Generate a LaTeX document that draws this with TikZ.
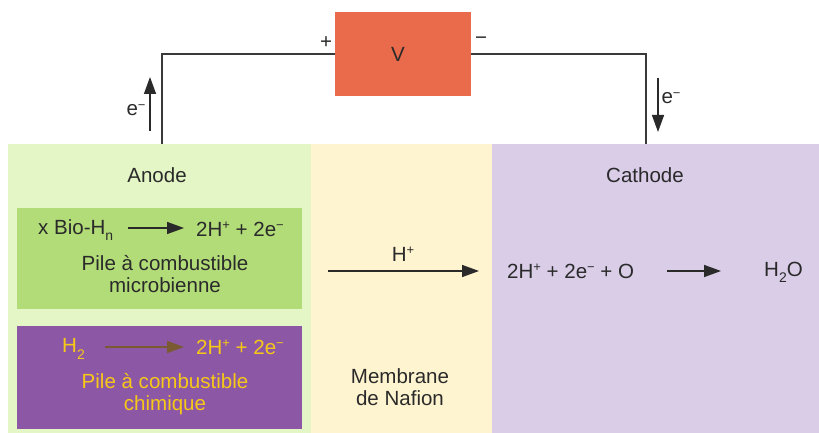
\documentclass[tikz,border=0pt]{standalone}
\usepackage{fontspec}
\setmainfont{Liberation Sans}
\usetikzlibrary{arrows.meta}
\definecolor{anodebg}{HTML}{E4F6C6}
\definecolor{membbg}{HTML}{FFF4D0}
\definecolor{cathbg}{HTML}{D9CDE8}
\definecolor{biogreen}{HTML}{B2DC78}
\definecolor{chemviolet}{HTML}{8C58A6}
\definecolor{chemtext}{HTML}{F7C816}
\definecolor{chemarrow}{HTML}{7A5A32}
\definecolor{voltred}{HTML}{EA6A4C}
\definecolor{wiregray}{HTML}{3A3A3A}
\definecolor{ink}{HTML}{2A2A2A}
\newcommand{\supsm}[1]{\raisebox{0.3em}{\fontsize{13}{13}\selectfont #1}}
\newcommand{\subsm}[1]{\raisebox{-0.3em}{\fontsize{14}{14}\selectfont #1}}
\newcommand{\eminus}{e\supsm{−}}
\newcommand{\hplus}{H\supsm{+}}
\tikzset{
  lbl/.style={font=\fontsize{20.6}{23.5}\selectfont, text=ink, inner sep=0pt, align=center},
  wire/.style={draw=wiregray, line width=1.6bp},
  flow/.style={draw=ink, line width=1.5bp, -{Triangle[length=17bp,width=12bp]}},
}
\begin{document}
\begin{tikzpicture}[x=1bp,y=-1bp]
\useasboundingbox (0,0) rectangle (819,433);
% cell compartments
\fill[anodebg] (8,144) rectangle (311,433);
\fill[membbg] (311,144) rectangle (492,433);
\fill[cathbg] (492,144) rectangle (819,433);
\fill[biogreen] (17,208) rectangle (302,309);
\fill[chemviolet] (17,326) rectangle (302,429);

% voltmeter and external circuit
\node[fill=voltred, minimum width=136bp, minimum height=84bp, inner sep=0pt] (volt) at (403,54) {};
\node[lbl] (vlab) at (398,54) {V};
\node[lbl] (plus) at (326,43) {+};
\node[lbl] (minus) at (481,41) {−};
\coordinate (anodetop) at (162,144);
\coordinate (cathtop) at (646,144);
\draw[wire] (anodetop) |- (volt.west);
\draw[wire] (volt.east) -| (cathtop);

% electron flow
\coordinate (eupS) at (150,131);
\coordinate (eupE) at (150,77);
\draw[flow] (eupS) -- (eupE);
\node[lbl] (eup) at (136,110) {\eminus};
\coordinate (edownS) at (658,78);
\coordinate (edownE) at (658,132);
\draw[flow] (edownS) -- (edownE);
\node[lbl] (edown) at (671,98) {\eminus};

% headings
\node[lbl] (anode) at (157,175) {Anode};
\node[lbl] (cathode) at (645,175) {Cathode};

% microbial fuel cell
\node[lbl, anchor=west] (bioin) at (38,230) {x Bio-H\subsm{n}};
\node[lbl, anchor=west] (bioout) at (196,229) {2\hplus{} + 2\eminus};
\coordinate (bioarrS) at (128,228);
\coordinate (bioarrE) at (184,228);
\draw[flow] (bioarrS) -- (bioarrE);
\node[lbl] (biocap) at (165,274) {Pile à combustible\\[-2pt]microbienne};

% chemical fuel cell
\node[lbl, anchor=west, text=chemtext] (chemin) at (62,349) {H\subsm{2}};
\node[lbl, anchor=west, text=chemtext] (chemout) at (196,347) {2\hplus{} + 2\eminus};
\coordinate (chemarrS) at (105,347);
\coordinate (chemarrE) at (184,347);
\draw[flow, draw=chemarrow, fill=chemarrow] (chemarrS) -- (chemarrE);
\node[lbl, text=chemtext] (chemcap) at (165,394) {Pile à combustible\\[-2pt]chimique};

% proton transport through the membrane
\coordinate (hS) at (328,271);
\coordinate (hE) at (479,271);
\draw[flow] (hS) -- (hE);
\node[lbl] (hlab) at (403,254) {\hplus};
\node[lbl] (memb) at (400,387) {Membrane\\[-2pt]de Nafion};

% cathode reaction
\node[lbl, anchor=west] (cathin) at (507,271) {2\hplus{} + 2\eminus{} + O};
\coordinate (cathS) at (667,271);
\coordinate (cathE) at (721,271);
\draw[flow] (cathS) -- (cathE);
\node[lbl, anchor=west] (water) at (764,272) {H\subsm{2}O};
\end{tikzpicture}
\end{document}
